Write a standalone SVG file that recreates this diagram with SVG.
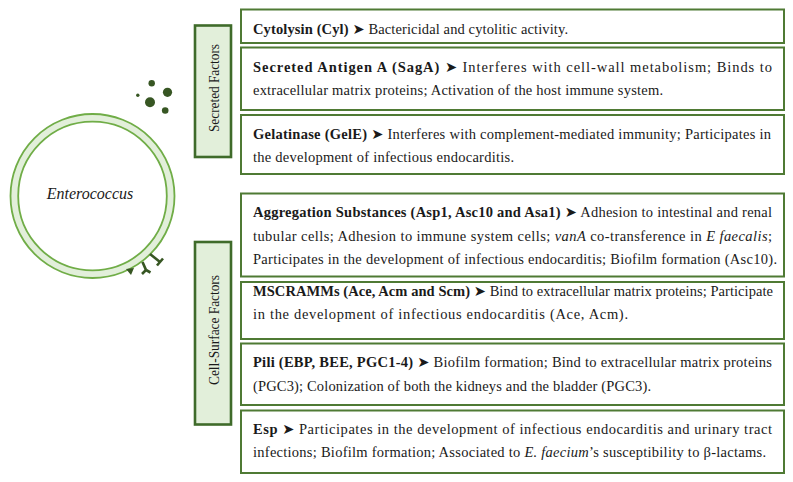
<svg xmlns="http://www.w3.org/2000/svg" width="793" height="482" viewBox="0 0 793 482">
<style>
.lbl{fill:#e2efda;stroke:#3f6b2a;stroke-width:2.6}
.box{fill:#ffffff;stroke:#4f7a34;stroke-width:2}
.t{font-family:"Liberation Serif","DejaVu Serif","DejaVu Sans",serif;font-size:14.5px;fill:#1a1a1a}
.lt{font-family:"Liberation Serif","DejaVu Serif",serif;font-size:14px;fill:#1a1a1a}
.b{font-weight:bold}
.i{font-style:italic}
.dot{fill:#375623}
.pil{stroke:#375623;stroke-width:2.6;fill:none;stroke-linecap:butt}
</style>
<rect width="793" height="482" fill="#ffffff"/>

<g id="enterococcus">
  <circle cx="92.5" cy="196" r="82" fill="#e2efda" stroke="#70ad47" stroke-width="1.8"/>
  <circle cx="92.5" cy="196" r="74.3" fill="#ffffff" stroke="#70ad47" stroke-width="1.8"/>
  <text x="90" y="199" text-anchor="middle" font-family="'Liberation Serif',serif" font-style="italic" font-size="16" fill="#1a1a1a">Enterococcus</text>
  <g id="secreted-dots">
    <circle class="dot" cx="151.7" cy="83.3" r="3.2"/>
    <circle class="dot" cx="167.5" cy="92.3" r="4.6"/>
    <circle class="dot" cx="137.8" cy="95.2" r="1.7"/>
    <circle class="dot" cx="150" cy="102.3" r="5"/>
    <circle class="dot" cx="165.2" cy="110.5" r="3.3"/>
  </g>
  <g id="surface-structures">
    <line class="pil" x1="150" y1="254" x2="160" y2="262"/>
    <line class="pil" x1="157" y1="265.5" x2="163" y2="258.5"/>
    <line class="pil" x1="142.5" y1="262" x2="146" y2="270"/>
    <path class="pil" d="M146,270 L142,274 M146,270 L150.5,272.5" stroke-width="2"/>
    <polygon points="126,269 134,268 131,275" fill="#375623"/>
  </g>
</g>

<g id="label-secreted">
  <rect class="lbl" x="195" y="25.5" width="36" height="131.5"/>
  <text class="lt" transform="translate(218.5,88) rotate(-90)" text-anchor="middle" textLength="88" lengthAdjust="spacingAndGlyphs">Secreted Factors</text>
</g>
<g id="label-surface">
  <rect class="lbl" x="195" y="242" width="36" height="182.5"/>
  <text class="lt" transform="translate(218.5,330) rotate(-90)" text-anchor="middle" textLength="110" lengthAdjust="spacingAndGlyphs">Cell-Surface Factors</text>
</g>

<g id="box-cyl">
  <rect class="box" x="241" y="9.5" width="543" height="33.5"/>
  <text class="t" x="253" y="34" textLength="315" lengthAdjust="spacing"><tspan class="b">Cytolysin (Cyl)</tspan> ➤ Bactericidal and cytolitic activity.</text>
</g>
<g id="box-saga">
  <rect class="box" x="241" y="47.5" width="543" height="62.5"/>
  <text class="t" x="253" y="71.5" textLength="519" lengthAdjust="spacing"><tspan class="b">Secreted Antigen A (SagA)</tspan> ➤ Interferes with cell-wall metabolism; Binds to</text>
  <text class="t" x="253" y="94.5" textLength="410" lengthAdjust="spacing">extracellular matrix proteins; Activation of the host immune system.</text>
</g>
<g id="box-gele">
  <rect class="box" x="241" y="115" width="543" height="59"/>
  <text class="t" x="253" y="138.5" textLength="518" lengthAdjust="spacing"><tspan class="b">Gelatinase (GelE)</tspan> ➤ Interferes with complement-mediated immunity; Participates in</text>
  <text class="t" x="253" y="161.5" textLength="261" lengthAdjust="spacing">the development of infectious endocarditis.</text>
</g>

<g id="box-agg">
  <rect class="box" x="241" y="193.5" width="543" height="83"/>
  <text class="t" x="253" y="216.5" textLength="519" lengthAdjust="spacing"><tspan class="b">Aggregation Substances (Asp1, Asc10 and Asa1)</tspan> ➤ Adhesion to intestinal and renal</text>
  <text class="t" x="253" y="240.5" textLength="519" lengthAdjust="spacing">tubular cells; Adhesion to immune system cells; <tspan class="i">vanA</tspan> co-transference in <tspan class="i">E faecalis</tspan>;</text>
  <text class="t" x="253" y="264" textLength="524" lengthAdjust="spacing">Participates in the development of infectious endocarditis; Biofilm formation (Asc10).</text>
</g>
<g id="box-mscramm">
  <rect class="box" x="241" y="282" width="543" height="57"/>
  <text class="t" x="253" y="295.5" textLength="520" lengthAdjust="spacing"><tspan class="b">MSCRAMMs (Ace, Acm and Scm)</tspan> ➤ Bind to extracellular matrix proteins; Participate</text>
  <text class="t" x="253" y="319" textLength="375" lengthAdjust="spacing">in the development of infectious endocarditis (Ace, Acm).</text>
</g>
<g id="box-pili">
  <rect class="box" x="241" y="343.5" width="543" height="61.5"/>
  <text class="t" x="253" y="366.5" textLength="519" lengthAdjust="spacing"><tspan class="b">Pili (EBP, BEE, PGC1-4)</tspan> ➤ Biofilm formation; Bind to extracellular matrix proteins</text>
  <text class="t" x="253" y="390.5" textLength="398" lengthAdjust="spacing">(PGC3); Colonization of both the kidneys and the bladder (PGC3).</text>
</g>
<g id="box-esp">
  <rect class="box" x="241" y="410.5" width="543" height="62.5"/>
  <text class="t" x="253" y="433.5" textLength="519" lengthAdjust="spacing"><tspan class="b">Esp</tspan> ➤ Participates in the development of infectious endocarditis and urinary tract</text>
  <text class="t" x="253" y="457" textLength="513" lengthAdjust="spacing">infections; Biofilm formation; Associated to <tspan class="i">E. faecium</tspan>’s susceptibility to β-lactams.</text>
</g>

<g id="connectors"></g>
</svg>
